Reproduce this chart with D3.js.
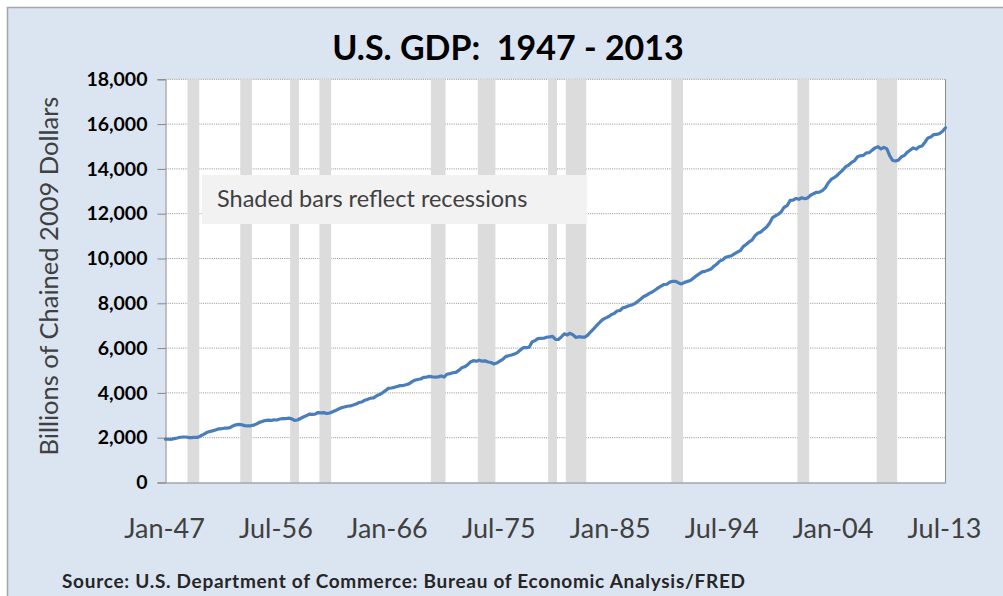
<!DOCTYPE html>
<html>
<head>
<meta charset="utf-8">
<script src="https://cdn.jsdelivr.net/npm/d3@7"></script>
<style>
  html, body { margin: 0; padding: 0; background: #ffffff; }
  svg { display: block; }
  text { font-family: Lato, "Open Sans", "DejaVu Sans", sans-serif; }
</style>
</head>
<body>
<svg id="chart" width="1003" height="596"></svg>
<script>
// ---- Data ----
const firstYear = 1947;
// Real GDP, billions of chained 2009 dollars, quarterly 1947Q1 - 2013Q3
const gdp = [
  1932.6, 1930.4, 1928.4, 1958.8,     // 1947
  1987.5, 2019.6, 2030.8, 2032.3,     // 1948
  2006.4, 2002.4, 2021.0, 2011.4,     // 1949
  2084.6, 2147.6, 2230.4, 2273.4,     // 1950
  2304.5, 2344.5, 2392.8, 2398.1,     // 1951
  2423.5, 2428.5, 2446.1, 2526.4,     // 1952
  2573.4, 2593.5, 2578.9, 2539.8,     // 1953
  2528.0, 2530.7, 2559.4, 2609.3,     // 1954
  2683.8, 2727.5, 2764.1, 2780.8,     // 1955
  2770.0, 2792.9, 2790.6, 2836.2,     // 1956
  2854.5, 2848.2, 2875.9, 2846.4,     // 1957
  2772.7, 2790.9, 2855.5, 2922.3,     // 1958
  2976.6, 3049.0, 3043.1, 3055.1,     // 1959
  3123.2, 3111.3, 3119.1, 3081.3,     // 1960
  3102.3, 3159.9, 3212.6, 3277.7,     // 1961
  3336.8, 3372.7, 3404.8, 3418.0,     // 1962
  3456.1, 3501.1, 3569.5, 3595.0,     // 1963
  3672.7, 3716.4, 3766.9, 3780.2,     // 1964
  3873.5, 3926.4, 4006.2, 4100.6,     // 1965
  4201.9, 4219.1, 4249.2, 4285.6,     // 1966
  4324.9, 4328.7, 4366.1, 4401.2,     // 1967
  4490.6, 4566.4, 4599.3, 4619.8,     // 1968
  4691.6, 4706.7, 4736.1, 4715.5,     // 1969
  4707.1, 4715.4, 4757.2, 4708.3,     // 1970
  4834.3, 4861.9, 4900.0, 4914.3,     // 1971
  5002.4, 5118.3, 5165.4, 5251.2,     // 1972
  5380.5, 5441.5, 5411.9, 5462.4,     // 1973
  5417.0, 5431.3, 5378.7, 5357.2,     // 1974
  5292.4, 5333.2, 5421.4, 5494.4,     // 1975
  5618.5, 5661.0, 5689.8, 5732.5,     // 1976
  5799.2, 5913.0, 6017.6, 6018.2,     // 1977
  6039.2, 6274.0, 6335.3, 6420.3,     // 1978
  6433.0, 6440.8, 6487.1, 6503.9,     // 1979
  6524.9, 6392.6, 6382.9, 6501.2,     // 1980
  6635.7, 6587.3, 6662.9, 6585.1,     // 1981
  6475.0, 6510.2, 6486.8, 6493.1,     // 1982
  6578.2, 6728.3, 6860.0, 7001.5,     // 1983
  7140.6, 7266.0, 7337.5, 7395.8,     // 1984
  7491.3, 7548.9, 7657.1, 7678.6,     // 1985
  7799.2, 7831.3, 7890.1, 7921.4,     // 1986
  7985.2, 8075.3, 8178.8, 8291.3,     // 1987
  8357.6, 8441.9, 8505.0, 8593.5,     // 1988
  8686.5, 8769.9, 8839.6, 8849.6,     // 1989
  8947.1, 8981.7, 8983.9, 8907.4,     // 1990
  8865.6, 8934.4, 8977.3, 9016.4,     // 1991
  9123.0, 9223.5, 9313.2, 9406.5,     // 1992
  9424.1, 9480.1, 9526.3, 9653.5,     // 1993
  9748.2, 9881.4, 9939.7, 10052.5,    // 1994
  10086.9, 10122.1, 10208.8, 10281.2, // 1995
  10348.7, 10529.4, 10626.8, 10739.1, // 1996
  10820.9, 11014.3, 11124.0, 11180.6, // 1997
  11298.2, 11404.3, 11576.2, 11825.0, // 1998
  11906.7, 11978.6, 12089.0, 12289.3, // 1999
  12359.1, 12592.5, 12607.7, 12679.3, // 2000
  12643.3, 12710.3, 12670.1, 12705.3, // 2001
  12822.3, 12893.0, 12955.8, 12964.0, // 2002
  13031.2, 13152.1, 13372.4, 13528.7, // 2003
  13606.5, 13706.2, 13830.8, 13950.4, // 2004
  14099.1, 14172.7, 14291.8, 14373.4, // 2005
  14546.1, 14589.6, 14602.6, 14716.9, // 2006
  14726.0, 14838.7, 14938.5, 14991.8, // 2007
  14889.5, 14963.4, 14891.6, 14577.0, // 2008
  14375.0, 14355.6, 14402.5, 14541.9, // 2009
  14604.8, 14745.9, 14845.5, 14939.0, // 2010
  14881.3, 14989.6, 15021.1, 15190.3, // 2011
  15381.6, 15427.7, 15534.0, 15539.6, // 2012
  15583.9, 15679.7, 15839.3           // 2013
];

// Recession periods (shaded bars), first and last quarter
const recessionStarts = ["1949Q1", "1953Q3", "1957Q4", "1960Q2", "1969Q4", "1973Q4", "1979Q4", "1981Q2", "1990Q2", "2001Q1", "2007Q4"];
const recessionEnds   = ["1949Q4", "1954Q2", "1958Q2", "1961Q1", "1970Q4", "1975Q1", "1980Q2", "1982Q4", "1991Q1", "2001Q4", "2009Q2"];

// Axis ticks
const xTickQuarters = ["1947Q1", "1956Q3", "1966Q1", "1975Q3", "1985Q1", "1994Q3", "2004Q1", "2013Q3"];
const xTickLabels   = ["Jan-47", "Jul-56", "Jan-66", "Jul-75", "Jan-85", "Jul-94", "Jan-04", "Jul-13"];
const yTicks = [0, 2000, 4000, 6000, 8000, 10000, 12000, 14000, 16000, 18000];

const titleText = "U.S. GDP:  1947 - 2013";
const yTitleText = "Billions of Chained 2009 Dollars";
const noteText = "Shaded bars reflect recessions";
const sourceText = "Source: U.S. Department of Commerce: Bureau of Economic Analysis/FRED";

// ---- Build categories ----
const quarters = gdp.map((_, i) => `${firstYear + Math.floor(i / 4)}Q${(i % 4) + 1}`);
const qIndex = new Map(quarters.map((q, i) => [q, i]));

// ---- Layout ----
const svg = d3.select("#chart");
const plot = { left: 165.5, right: 945.5, top: 79.3, bottom: 482.5 };

const x = d3.scaleLinear().domain([0, quarters.length - 1]).range([plot.left, plot.right]);
const y = d3.scaleLinear().domain([0, 18000]).range([plot.bottom, plot.top]);
const step = x(1) - x(0);

// outer background
svg.append("rect").attr("x", 0).attr("y", 0).attr("width", 1003).attr("height", 596).attr("fill", "#ffffff");
svg.append("rect")
  .attr("x", 7.5).attr("y", 7.5).attr("width", 1010).attr("height", 600)
  .attr("fill", "#dbe5f1").attr("stroke", "#a5a5a5").attr("stroke-width", 1.5);

// plot area
svg.append("rect")
  .attr("x", plot.left).attr("y", plot.top)
  .attr("width", plot.right - plot.left).attr("height", plot.bottom - plot.top)
  .attr("fill", "#ffffff");

// gridlines
svg.append("g").selectAll("line")
  .data(yTicks.filter(d => d > 0))
  .join("line")
  .attr("x1", plot.left).attr("x2", plot.right)
  .attr("y1", d => y(d)).attr("y2", d => y(d))
  .attr("stroke", "#8f8f8f").attr("stroke-width", 1)
  .attr("stroke-dasharray", "1,1.2");

// recession bars
const recessions = recessionStarts.map((s, i) => ({ s: qIndex.get(s), e: qIndex.get(recessionEnds[i]) }));
svg.append("g").selectAll("rect")
  .data(recessions)
  .join("rect")
  .attr("x", d => x(d.s) - step / 2)
  .attr("width", d => (d.e - d.s + 1) * step)
  .attr("y", y(18000))
  .attr("height", y(0) - y(18000))
  .attr("fill", "#dcdcdc");

// note box
const noteG = svg.append("g");
noteG.append("rect")
  .attr("x", 202).attr("y", 175).attr("width", 385).attr("height", 49)
  .attr("fill", "#f2f2f2");
noteG.append("text")
  .attr("x", 217).attr("y", 207)
  .attr("font-size", 23.5).attr("fill", "#404040")
  .text(noteText);

// right border of plot
svg.append("line")
  .attr("x1", plot.right).attr("x2", plot.right)
  .attr("y1", plot.top).attr("y2", plot.bottom)
  .attr("stroke", "#8c8c8c").attr("stroke-width", 1);

// y axis
const yAxis = svg.append("g")
  .attr("transform", `translate(${plot.left},0)`)
  .call(d3.axisLeft(y).tickValues(yTicks).tickSize(8).tickPadding(10).tickFormat(d3.format(",")));
yAxis.select(".domain").attr("stroke", "#868686");
yAxis.selectAll(".tick line").attr("stroke", "#868686");
yAxis.selectAll(".tick text")
  .attr("font-family", "Lato, sans-serif")
  .attr("font-size", 19.5).attr("font-weight", "bold").attr("fill", "#000");

// x axis
const xAxis = svg.append("g")
  .attr("transform", `translate(0,${plot.bottom})`)
  .call(d3.axisBottom(x)
    .tickValues(xTickQuarters.map(q => qIndex.get(q)))
    .tickSize(0)
    .tickFormat((d, i) => xTickLabels[i]));
xAxis.select(".domain").attr("stroke", "#868686");
xAxis.selectAll(".tick text")
  .attr("font-family", "Lato, sans-serif")
  .attr("font-size", 27).attr("fill", "#404040")
  .attr("dx", -1.5)
  .attr("y", 55).attr("dy", null);

// GDP line
svg.append("path")
  .datum(gdp)
  .attr("fill", "none")
  .attr("stroke", "#4a7ebb")
  .attr("stroke-width", 3.2)
  .attr("stroke-linejoin", "round")
  .attr("stroke-linecap", "round")
  .attr("d", d3.line().x((d, i) => x(i)).y(d => y(d)));

// title
svg.append("text")
  .attr("x", 508).attr("y", 60)
  .attr("text-anchor", "middle")
  .attr("font-size", 34).attr("font-weight", "bold").attr("fill", "#000")
  .style("white-space", "pre")
  .text(titleText);

// y axis title
svg.append("text")
  .attr("transform", "translate(58,276) rotate(-90)")
  .attr("text-anchor", "middle")
  .attr("font-size", 25.5).attr("fill", "#404040")
  .text(yTitleText);

// source
svg.append("text")
  .attr("x", 62).attr("y", 588)
  .attr("font-size", 19).attr("font-weight", "bold").attr("fill", "#262626")
  .attr("textLength", 683).attr("lengthAdjust", "spacing")
  .text(sourceText);
</script>
</body>
</html>
